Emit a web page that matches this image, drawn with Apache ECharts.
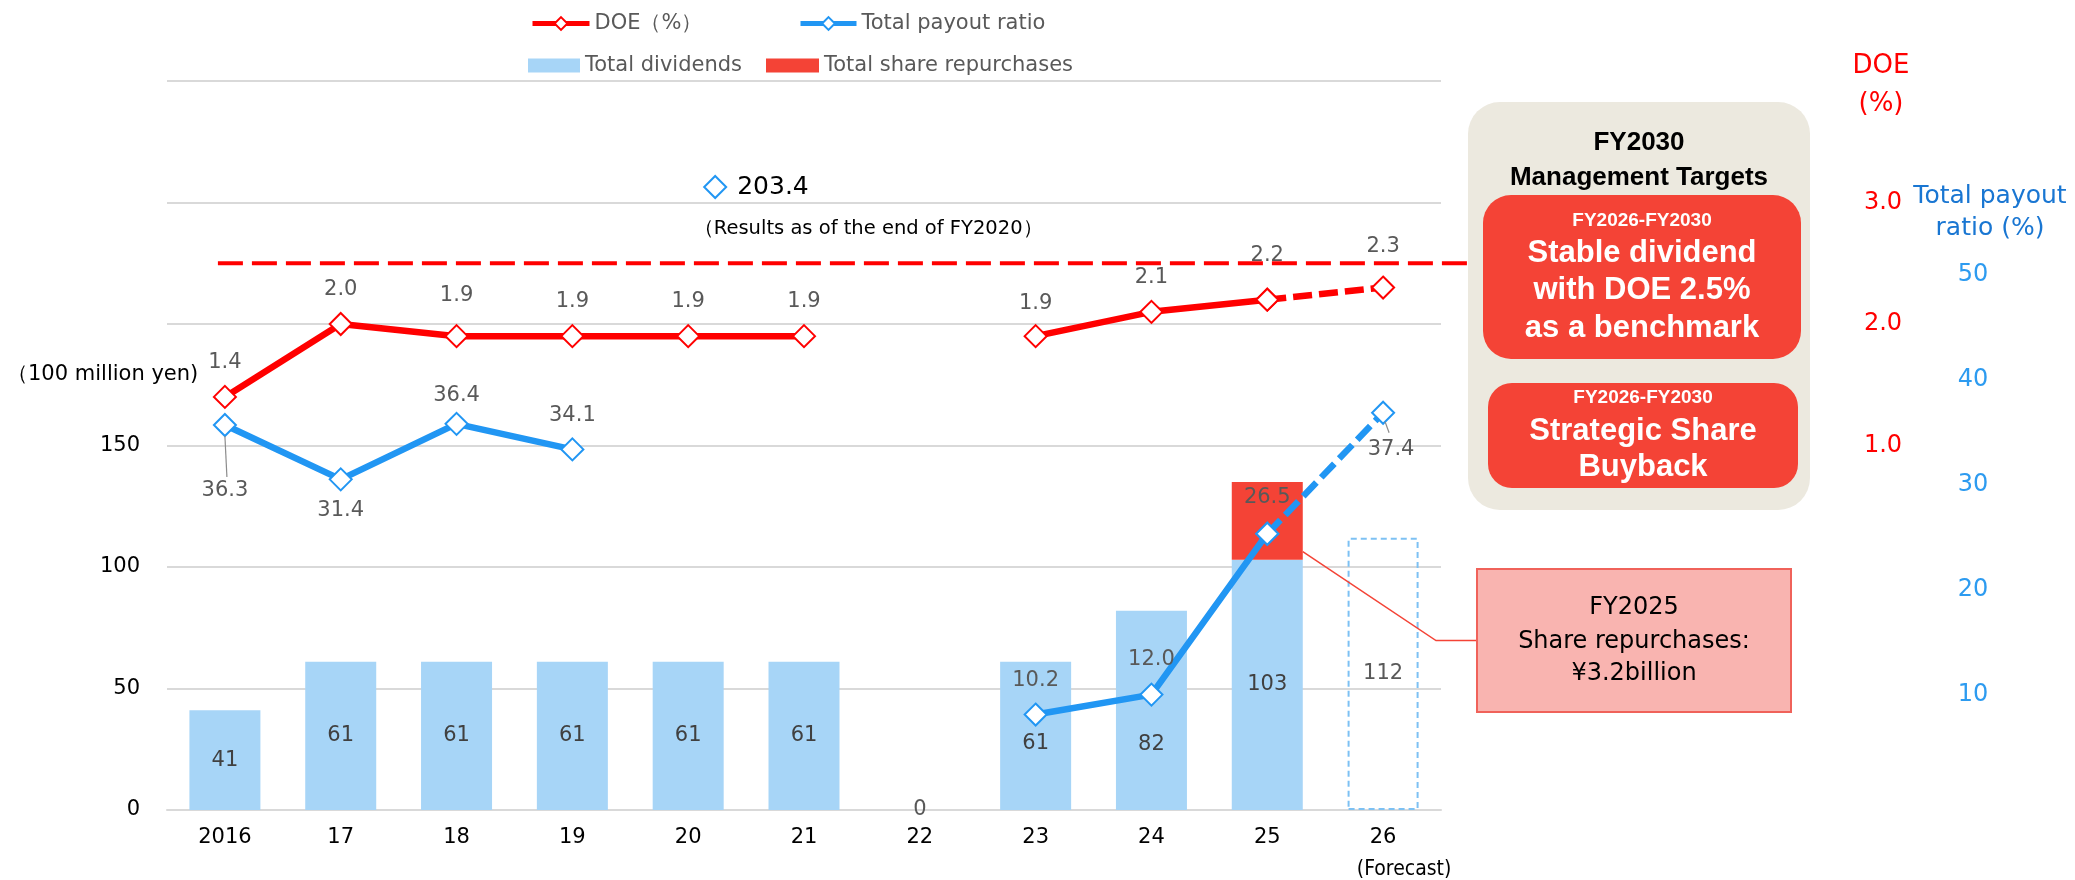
<!DOCTYPE html>
<html lang="en">
<head>
<meta charset="utf-8">
<title>Shareholder returns</title>
<script src="https://cdn.jsdelivr.net/npm/echarts@6.0.0/dist/echarts.min.js"></script>
<style>
  html, body { margin: 0; padding: 0; background: #ffffff; }
  #chart { width: 2075px; height: 880px; }
</style>
</head>
<body>
<div id="chart"></div>
<script>
// ---- data (fiscal years; amounts in 100 million yen) ----
const years = ['2016', '17', '18', '19', '20', '21', '22', '23', '24', '25', '26'];
const forecastIndex = 10;
const forecastNote = '(Forecast)';
const totalDividends = [41, 61, 61, 61, 61, 61, 0, 61, 82, 103, 112];
const shareRepurchases = [null, null, null, null, null, null, null, null, null, 32, null];
const doe = [1.4, 2.0, 1.9, 1.9, 1.9, 1.9, null, 1.9, 2.1, 2.2, 2.3];
const payoutRatio = [36.3, 31.4, 36.4, 34.1, 203.4, null, null, 10.2, 12.0, 26.5, 37.4];
const doeTarget = 2.5;
const amountTicks = [0, 50, 100, 150];
const doeTicks = [1, 2, 3];
const payoutTicks = [10, 20, 30, 40, 50];

// ---- styling ----
const FONT = '"DejaVu Sans", sans-serif';
const NARROW_FONT = '"Liberation Sans Narrow", "DejaVu Sans Condensed", sans-serif';
const BOLD_FONT = '"Liberation Sans", Arial, sans-serif';
const RED = '#FF0000';
const BLUE = '#2196F3';
const BAR_BLUE = '#A7D5F7';
const BAR_RED = '#F44336';
const LABEL_GREY = '#595959';
const LINE_WIDTH = 6.5;
const payoutAxisMin = 1.6;   // scale the payout line is plotted on
const payoutAxisMax = 67.3;

const chart = echarts.init(document.getElementById('chart'), null, { renderer: 'canvas' });

// label placement per point
const doeLabelDistance = { 2: 18, 7: 10, 9: 22, 10: 19 };
const payoutLabelPlacement = {
  0: { position: 'bottom', distance: 43 },
  1: { position: 'bottom', distance: 9 },
  2: { position: 'top', distance: 6 },
  3: { position: 'top', distance: 11 },
  7: { position: 'top', distance: 12 },
  8: { position: 'top', distance: 13 },
  9: { position: 'top', distance: 14 },
  10: { position: 'bottom', distance: 14, offset: [8, 0] }
};
const barLabelOffset = { 7: [0, 8], 8: [0, 34] };

const inRange = v => v != null && v >= payoutAxisMin && v <= payoutAxisMax;

function lineData(values, part, labelFor, keep) {
  return values.map((v, i) => {
    const solidPart = part === 'solid' && i < forecastIndex && keep(v);
    const dashPart = part === 'dash' && i >= forecastIndex - 1 && keep(v);
    if (!solidPart && !dashPart) return '-';
    const showLabel = part === 'solid' ? true : i === forecastIndex;
    return { value: v, label: Object.assign({ show: showLabel }, labelFor(i)) };
  });
}

const doeLabel = i => ({ position: 'top', distance: doeLabelDistance[i] != null ? doeLabelDistance[i] : 12 });
const payoutLabel = i => payoutLabelPlacement[i] || { position: 'top', distance: 12 };

const lineCommon = (color) => ({
  type: 'line',
  symbol: 'diamond',
  symbolSize: 22,
  connectNulls: false,
  itemStyle: { color: '#ffffff', borderColor: color, borderWidth: 2 },
  label: {
    color: LABEL_GREY, fontSize: 21, fontFamily: FONT,
    formatter: p => Number(p.value).toFixed(1)
  },
  z: 5
});

const dividendItems = totalDividends.map((v, i) => {
  if (i === forecastIndex) {
    return {
      value: v,
      itemStyle: { color: 'rgba(255,255,255,0)', borderColor: '#7DC1F3', borderWidth: 2, borderType: [6, 4] },
      label: { color: LABEL_GREY }
    };
  }
  const item = { value: v };
  if (barLabelOffset[i]) item.label = { offset: barLabelOffset[i] };
  if (v === 0) item.label = Object.assign({}, item.label, { color: LABEL_GREY });
  return item;
});

const legendText = { color: LABEL_GREY, fontSize: 21, fontFamily: FONT };

const option = {
  animation: false,
  backgroundColor: '#ffffff',
  textStyle: { fontFamily: FONT },
  grid: [
    { left: 167, right: 634, top: 81, bottom: 70, outerBoundsMode: 'none' },
    { left: 167, right: 634, top: 170, bottom: 80, outerBoundsMode: 'none', show: false }
  ],
  legend: [
    { data: ['DOE（%）'], left: 525, top: 8, itemWidth: 57, itemHeight: 16, selectedMode: false,
      lineStyle: { width: 5 }, textStyle: legendText },
    { data: ['Total payout ratio'], left: 793, top: 8, itemWidth: 56, itemHeight: 16, selectedMode: false,
      lineStyle: { width: 5 }, textStyle: legendText },
    { data: [{ name: 'Total dividends', icon: 'rect' }], left: 523, top: 50, itemWidth: 52, itemHeight: 14, selectedMode: false,
      textStyle: legendText },
    { data: [{ name: 'Total share repurchases', icon: 'rect' }], left: 761, top: 50, itemWidth: 53, itemHeight: 14, selectedMode: false,
      textStyle: legendText }
  ],
  xAxis: [
    {
      type: 'category', gridIndex: 0, data: years,
      axisLine: { show: true, lineStyle: { color: '#D9D9D9', width: 2 } },
      axisTick: { show: false },
      axisLabel: {
        interval: 0, margin: 12, color: '#000000', fontSize: 21, fontFamily: FONT, lineHeight: 32,
        formatter: (v, i) => (i === forecastIndex ? v + '\n{note|' + forecastNote + '}' : v),
        rich: {
          note: { fontFamily: NARROW_FONT, fontSize: 21, color: '#000000', lineHeight: 32, padding: [0, 0, 0, 42] }
        }
      }
    },
    { type: 'category', gridIndex: 1, data: years, show: false }
  ],
  yAxis: [
    {
      type: 'value', gridIndex: 0, min: 0, max: 300, interval: 50,
      axisLine: { show: false }, axisTick: { show: false },
      splitLine: { lineStyle: { color: '#D9D9D9', width: 2 } },
      axisLabel: {
        margin: 27, color: '#000000', fontSize: 21, fontFamily: FONT,
        formatter: v => (amountTicks.includes(v) ? String(v) : '')
      }
    },
    {
      type: 'value', gridIndex: 0, position: 'right', min: -2, max: 4, interval: 1,
      axisLine: { show: false }, axisTick: { show: false }, splitLine: { show: false },
      axisLabel: {
        margin: 442, align: 'center', color: RED, fontSize: 24, fontFamily: FONT,
        formatter: v => (doeTicks.includes(v) ? v.toFixed(1) : '')
      }
    },
    { type: 'value', gridIndex: 0, show: false, min: payoutAxisMin, max: payoutAxisMax, splitLine: { show: false } },
    {
      type: 'value', gridIndex: 1, position: 'right', min: 0, max: 60, interval: 10,
      axisLine: { show: false }, axisTick: { show: false }, splitLine: { show: false },
      axisLabel: {
        margin: 532, align: 'center', color: '#2D9BF0', fontSize: 24, fontFamily: FONT,
        formatter: v => (payoutTicks.includes(v) ? String(v) : '')
      }
    }
  ],
  series: [
    {
      name: 'Total dividends', type: 'bar', stack: 'amount', xAxisIndex: 0, yAxisIndex: 0,
      barWidth: 71, itemStyle: { color: BAR_BLUE },
      label: { show: true, position: 'inside', color: '#404040', fontSize: 21, fontFamily: FONT },
      data: dividendItems, z: 2
    },
    {
      name: 'Total share repurchases', type: 'bar', stack: 'amount', xAxisIndex: 0, yAxisIndex: 0,
      barWidth: 71, itemStyle: { color: BAR_RED },
      data: shareRepurchases.map(v => (v == null ? '-' : v)), z: 2
    },
    Object.assign(lineCommon(RED), {
      name: 'DOE（%）', yAxisIndex: 1,
      lineStyle: { color: RED, width: LINE_WIDTH },
      data: lineData(doe, 'solid', doeLabel, v => v != null), z: 6
    }),
    Object.assign(lineCommon(RED), {
      name: 'DOE（%）', yAxisIndex: 1,
      lineStyle: { color: RED, width: LINE_WIDTH, type: [19, 7] },
      data: lineData(doe, 'dash', doeLabel, v => v != null), z: 5
    }),
    Object.assign(lineCommon(BLUE), {
      name: 'Total payout ratio', yAxisIndex: 2,
      lineStyle: { color: BLUE, width: LINE_WIDTH },
      data: lineData(payoutRatio, 'solid', payoutLabel, inRange), z: 6
    }),
    Object.assign(lineCommon(BLUE), {
      name: 'Total payout ratio', yAxisIndex: 2,
      lineStyle: { color: BLUE, width: LINE_WIDTH, type: [19, 7] },
      data: lineData(payoutRatio, 'dash', payoutLabel, inRange), z: 5
    })
  ]
};

chart.setOption(option);

// ---- annotations placed through the chart's own scales ----
const xPix = i => chart.convertToPixel({ xAxisIndex: 0 }, years[i]);
const yAmt = v => chart.convertToPixel({ yAxisIndex: 0 }, v);
const yDoe = v => chart.convertToPixel({ yAxisIndex: 1 }, v);
const yPay = v => chart.convertToPixel({ yAxisIndex: 2 }, v);

const outOfScaleIndex = payoutRatio.findIndex(v => v != null && v > payoutAxisMax);
const outX = xPix(outOfScaleIndex) + 27;
const outY = 187;
const repurchaseIndex = shareRepurchases.findIndex(v => v != null);
const barRight = xPix(repurchaseIndex) + 35.5;
const calloutBox = { x: 1477, y: 569, width: 314, height: 143 };
const calloutMidY = calloutBox.y + calloutBox.height / 2;

const txt = (x, y, text, style) => ({
  type: 'text', x, y, silent: true, z: 20,
  style: Object.assign({ text, fontFamily: FONT, fontSize: 21, fill: '#000000', align: 'center', verticalAlign: 'middle' }, style)
});

const boldWhite = (x, y, text, size) => txt(x, y, text, { fontFamily: BOLD_FONT, fontWeight: 'bold', fontSize: size, fill: '#ffffff' });

const graphics = [
  // DOE benchmark line
  {
    type: 'line', silent: true, z: 1,
    shape: { x1: xPix(0) - 7, y1: yDoe(doeTarget), x2: 1490, y2: yDoe(doeTarget) },
    style: { stroke: RED, lineWidth: 4, lineDash: [25, 9] }
  },
  // payout ratio result outside the plotted range
  {
    type: 'polygon', silent: true, z: 20,
    shape: { points: [[outX, outY - 11], [outX + 11, outY], [outX, outY + 11], [outX - 11, outY]] },
    style: { fill: '#ffffff', stroke: BLUE, lineWidth: 2 }
  },
  txt(outX + 22, outY, payoutRatio[outOfScaleIndex].toFixed(1), { align: 'left', fontSize: 25 }),
  txt(outX + 153, 229, '（Results as of the end of FY20' + years[outOfScaleIndex] + '）', { fontSize: 19.5 }),
  // leader lines to displaced point labels
  {
    type: 'line', silent: true, z: 20,
    shape: { x1: xPix(0), y1: yPay(payoutRatio[0]) + 11, x2: xPix(0) + 2, y2: yPay(payoutRatio[0]) + 52 },
    style: { stroke: '#8C8C8C', lineWidth: 1.2 }
  },
  {
    type: 'line', silent: true, z: 20,
    shape: { x1: xPix(forecastIndex) + 2, y1: yPay(payoutRatio[forecastIndex]) + 9, x2: xPix(forecastIndex) + 6, y2: yPay(payoutRatio[forecastIndex]) + 20 },
    style: { stroke: '#8C8C8C', lineWidth: 1.2 }
  },
  // axis titles
  txt(7, 375, '（100 million yen)', { align: 'left' }),
  txt(1881, 85, 'DOE\n(%)', { fontSize: 26, fill: RED, lineHeight: 38 }),
  txt(1990, 212, 'Total payout\nratio (%)', { fontSize: 25, fill: '#1976D2', lineHeight: 32 }),
  // FY2030 management targets panel
  { type: 'rect', silent: true, z: 15, shape: { x: 1468, y: 102, width: 342, height: 408, r: 32 }, style: { fill: '#ECE9DF' } },
  txt(1639, 143, 'FY2030', { fontFamily: BOLD_FONT, fontWeight: 'bold', fontSize: 26 }),
  txt(1639, 178, 'Management Targets', { fontFamily: BOLD_FONT, fontWeight: 'bold', fontSize: 26 }),
  { type: 'rect', silent: true, z: 16, shape: { x: 1483, y: 195, width: 318, height: 164, r: 28 }, style: { fill: BAR_RED } },
  boldWhite(1642, 221, 'FY2026-FY2030', 19),
  boldWhite(1642, 253, 'Stable dividend', 31),
  boldWhite(1642, 290, 'with DOE ' + doeTarget + '%', 31),
  boldWhite(1642, 328, 'as a benchmark', 31),
  { type: 'rect', silent: true, z: 16, shape: { x: 1488, y: 383, width: 310, height: 105, r: 24 }, style: { fill: BAR_RED } },
  boldWhite(1643, 398, 'FY2026-FY2030', 19),
  boldWhite(1643, 431, 'Strategic Share', 31),
  boldWhite(1643, 467, 'Buyback', 31),
  // FY2025 repurchase callout
  {
    type: 'polyline', silent: true, z: 14,
    shape: { points: [[barRight, yAmt(totalDividends[repurchaseIndex]) - 8], [1436, calloutMidY], [calloutBox.x, calloutMidY]] },
    style: { stroke: BAR_RED, lineWidth: 1.5, fill: null }
  },
  { type: 'rect', silent: true, z: 15, shape: calloutBox, style: { fill: '#F9B4B0', stroke: '#F0625A', lineWidth: 2 } },
  txt(1634, 608, 'FY20' + years[repurchaseIndex], { fontSize: 24 }),
  txt(1634, 642, 'Share repurchases:', { fontSize: 24 }),
  txt(1634, 674, '¥' + (shareRepurchases[repurchaseIndex] / 10).toFixed(1) + 'billion', { fontSize: 24 })
];

chart.setOption({ graphic: { elements: graphics } });
</script>
</body>
</html>
